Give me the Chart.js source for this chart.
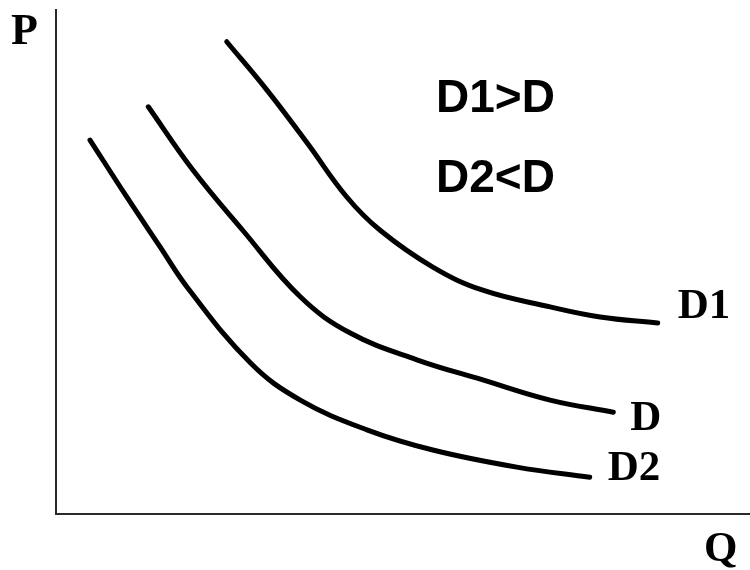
<!DOCTYPE html>
<html>
<head>
<meta charset="utf-8">
<title>Demand curves</title>
<script src="https://cdn.jsdelivr.net/npm/chart.js@4/dist/chart.umd.min.js"></script>
<style>
  html, body { margin: 0; padding: 0; background: #fff; }
  #chart { display: block; }
</style>
</head>
<body>
<canvas id="chart" width="750" height="570"></canvas>
<script>
// quantity (Q) / price (P) points for each demand curve, axes run 0..100
const d1Q = [24.6, 30.4, 36.2, 41.9, 46.7, 54.3, 61.5, 71.2, 78.4, 86.7];
const d1P = [93.7, 84.1, 73.6, 62.9, 56.3, 49.0, 44.4, 41.1, 39.1, 37.9];

const dQ = [13.3, 19.7, 26.9, 35.2, 42.4, 52.0, 61.5, 71.2, 80.3];
const dP = [80.8, 68.3, 56.3, 43.1, 35.9, 30.6, 26.6, 22.6, 20.2];

const d2Q = [4.9, 10.2, 15.0, 18.9, 28.0, 35.2, 44.8, 54.3, 66.4, 76.9];
const d2P = [74.2, 62.9, 53.0, 45.0, 30.0, 22.6, 16.7, 12.7, 9.3, 7.3];

const curveNames = ['D1', 'D', 'D2'];
const notes = ['D1>D', 'D2<D'];

const toPoints = (qs, ps) => qs.map((q, i) => ({ x: q, y: ps[i] }));

const curveStyle = {
  borderColor: '#000',
  borderWidth: 5,
  borderCapStyle: 'round',
  borderJoinStyle: 'round',
  pointRadius: 0,
  tension: 0.4,
  fill: false
};

// text drawn on top: axis names, curve names next to curve ends, comparison notes
const textPlugin = {
  id: 'textLabels',
  afterDatasetsDraw(chart) {
    const { ctx, chartArea, scales: { x, y } } = chart;
    const serif = 'bold 43px "Liberation Serif", "DejaVu Serif", serif';
    const sans = 'bold 46px "Liberation Sans", Arial, sans-serif';
    ctx.save();
    ctx.fillStyle = '#000';
    ctx.textBaseline = 'alphabetic';
    ctx.textAlign = 'left';

    ctx.font = 'bold 44px "Liberation Serif", "DejaVu Serif", serif';
    ctx.fillText('P', chartArea.left - 45, chartArea.top + 34);
    ctx.font = serif;
    ctx.fillText('Q', chartArea.right - 46, chartArea.bottom + 47);

    // curve names, offset from the last point of each curve
    const ends = [
      { q: d1Q, p: d1P, dx: 20, dy: -5 },
      { q: dQ, p: dP, dx: 17, dy: 18 },
      { q: d2Q, p: d2P, dx: 18, dy: 3 }
    ];
    ends.forEach((e, i) => {
      const n = e.q.length - 1;
      const px = x.getPixelForValue(e.q[n]);
      const py = y.getPixelForValue(e.p[n]);
      ctx.fillText(curveNames[i], px + e.dx, py + e.dy);
    });

    ctx.font = sans;
    ctx.fillText(notes[0], 436, 112);
    ctx.fillText(notes[1], 436, 192);
    ctx.restore();
  }
};

new Chart(document.getElementById('chart'), {
  type: 'line',
  data: {
    datasets: [
      { label: curveNames[0], data: toPoints(d1Q, d1P), ...curveStyle },
      { label: curveNames[1], data: toPoints(dQ, dP), ...curveStyle },
      { label: curveNames[2], data: toPoints(d2Q, d2P), ...curveStyle }
    ]
  },
  options: {
    responsive: false,
    animation: false,
    layout: { padding: { left: 56, top: 10, right: 0, bottom: 56 } },
    plugins: {
      legend: { display: false },
      tooltip: { enabled: false }
    },
    scales: {
      x: {
        type: 'linear',
        min: 0,
        max: 100,
        ticks: { display: false },
        grid: { display: false, drawTicks: false },
        border: { display: true, color: '#2a2a2a', width: 2 }
      },
      y: {
        type: 'linear',
        min: 0,
        max: 100,
        ticks: { display: false },
        grid: { display: false, drawTicks: false },
        border: { display: true, color: '#2a2a2a', width: 2 }
      }
    }
  },
  plugins: [textPlugin]
});
</script>
</body>
</html>
